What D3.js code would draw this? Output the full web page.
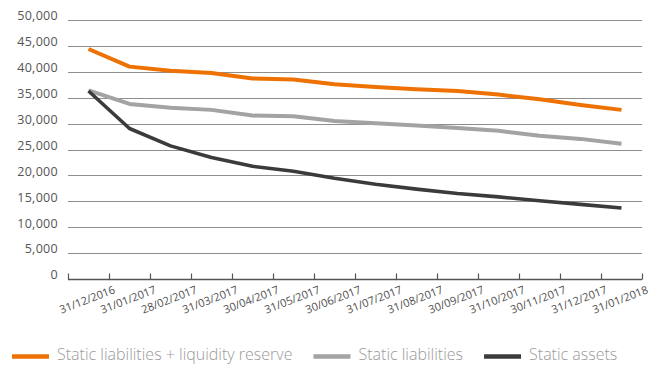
<!DOCTYPE html>
<html>
<head>
<meta charset="utf-8">
<script src="https://cdn.jsdelivr.net/npm/d3@7"></script>
<style>
  html, body { margin: 0; padding: 0; background: #fff; }
  svg { display: block; font-family: "Open Sans", "Noto Sans", sans-serif; }
</style>
</head>
<body>
<svg id="chart" width="655" height="367"></svg>
<script>
// Month-end reporting dates
const dates = [
  "31/12/2016", "31/01/2017", "28/02/2017", "31/03/2017", "30/04/2017",
  "31/05/2017", "30/06/2017", "31/07/2017", "31/08/2017", "30/09/2017",
  "31/10/2017", "30/11/2017", "31/12/2017", "31/01/2018"
];

// Series values (in thousands)
const liabilitiesPlusReserve = [44400, 41000, 40200, 39750, 38700, 38500, 37600, 37050, 36650, 36300, 35600, 34700, 33600, 32650];
const staticLiabilities      = [36400, 33800, 33050, 32650, 31550, 31400, 30500, 30080, 29650, 29170, 28600, 27650, 27050, 26100];
const staticAssets           = [36300, 29050, 25700, 23450, 21750, 20800, 19450, 18300, 17350, 16500, 15850, 15100, 14400, 13700];

const yTicks = [0, 5000, 10000, 15000, 20000, 25000, 30000, 35000, 40000, 45000, 50000];

const seriesNames = ["Static liabilities + liquidity reserve", "Static liabilities", "Static assets"];
const seriesColors = ["#ee7203", "#a3a3a3", "#3b3b3b"];
const seriesData = [liabilitiesPlusReserve, staticLiabilities, staticAssets];

const svg = d3.select("#chart");
const margin = { left: 68, right: 13, top: 20, bottom: 88 };
const width = 655, height = 367;
const innerW = width - margin.left - margin.right;
const innerH = height - margin.top - margin.bottom;

const x = d3.scaleBand().domain(dates).range([margin.left, margin.left + innerW]);
const y = d3.scaleLinear().domain([0, 50000]).range([margin.top + innerH, margin.top]);

// Horizontal gridlines
svg.append("g")
  .selectAll("line")
  .data(yTicks.filter(t => t > 0))
  .join("line")
  .attr("x1", margin.left)
  .attr("x2", margin.left + innerW)
  .attr("y1", d => Math.round(y(d)) + 0.5)
  .attr("y2", d => Math.round(y(d)) + 0.5)
  .attr("stroke", "#8e8e8e")
  .attr("stroke-width", 1.2);

// Y axis labels
const fmt = d3.format(",");
svg.append("g")
  .selectAll("text")
  .data(yTicks)
  .join("text")
  .attr("x", 58)
  .attr("y", d => y(d) - 3)
  .attr("text-anchor", "end")
  .attr("dominant-baseline", "middle")
  .attr("fill", "#555")
  .style("font-size", "12.5px")
  .style("letter-spacing", "0.3px")
  .text(d => fmt(d));

// X axis: baseline with inward ticks at category boundaries
const xAxis = svg.append("g");
const baseY = Math.round(y(0)) + 0.5;
xAxis.append("line")
  .attr("x1", margin.left).attr("x2", margin.left + innerW)
  .attr("y1", baseY).attr("y2", baseY)
  .attr("stroke", "#555").attr("stroke-width", 1.3);
const boundaries = dates.map(d => x(d)).concat([x(dates[dates.length - 1]) + x.bandwidth()]);
xAxis.selectAll("line.tick")
  .data(boundaries)
  .join("line")
  .attr("class", "tick")
  .attr("x1", d => Math.round(d) + 0.5).attr("x2", d => Math.round(d) + 0.5)
  .attr("y1", baseY - 6).attr("y2", baseY)
  .attr("stroke", "#555").attr("stroke-width", 1.2);

xAxis.selectAll("text")
  .data(dates)
  .join("text")
  .attr("transform", d => `translate(${x(d) + x.bandwidth() / 2 - 1},${baseY + 21}) rotate(-21)`)
  .attr("text-anchor", "middle")
  .attr("dominant-baseline", "middle")
  .attr("fill", "#4f4f4f")
  .style("font-size", "11px")
  .text(d => d);

// Lines
const line = d3.line()
  .x((d, i) => x(dates[i]) + x.bandwidth() / 2)
  .y(d => y(d));

const widths = [4, 4, 3.6];
[1, 2, 0].forEach(k => {
  svg.append("path")
    .datum(seriesData[k])
    .attr("fill", "none")
    .attr("stroke", seriesColors[k])
    .attr("stroke-width", widths[k])
    .attr("stroke-linejoin", "round")
    .attr("d", line);
});

// Legend
const legend = svg.append("g").attr("transform", "translate(12,356)");
let lx = 0;
seriesNames.forEach((name, i) => {
  const g = legend.append("g").attr("transform", `translate(${lx},0)`);
  g.append("line")
    .attr("x1", 0).attr("x2", 37)
    .attr("y1", 0.5).attr("y2", 0.5)
    .attr("stroke", seriesColors[i])
    .attr("stroke-width", 4.5);
  const t = g.append("text")
    .attr("x", 45)
    .attr("y", 0)
    .attr("dominant-baseline", "middle")
    .attr("fill", "#9a9a9a")
    .style("font-size", "16px")
    .style("font-weight", 300)
    .text(name);
  lx += 45 + t.node().getComputedTextLength() + 21;
});
</script>
</body>
</html>
